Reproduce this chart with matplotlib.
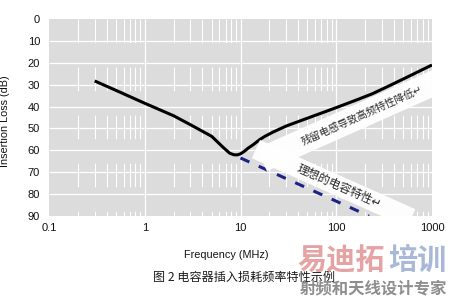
import matplotlib
matplotlib.use("Agg")
import matplotlib.pyplot as plt
from matplotlib.patches import Polygon
import numpy as np

plt.rcParams["lines.scale_dashes"] = False
CJK = ["Noto Sans CJK SC", "DejaVu Sans"]
LATIN = ["Liberation Sans", "DejaVu Sans"]

# Measured insertion loss of the real capacitor
freq_mhz = [0.3, 0.5, 1, 2, 3, 5, 6.5, 7.7, 8.5, 9.2, 10, 11, 12, 13.4, 16,
            18, 22, 30, 48, 75, 107, 167, 240, 370, 530, 1000]
loss_db = [28.3, 32.6, 38.5, 44.2, 48.3, 53.6, 58.4, 61.3, 62.0, 62.1, 61.6,
           60.4, 59.0, 57.6, 55.0, 53.6, 51.6, 48.9, 45.6, 42.5, 40.0, 36.8,
           34.1, 30.2, 26.9, 21.0]

# Ideal capacitor (20 dB/decade)
ideal_freq = [10, 220]
ideal_loss = [63.5, 90.0]

x_ticks = [0.1, 1, 10, 100, 1000]
x_labels = ["0.1", "1", "10", "100", "1000"]
y_ticks = [0, 10, 20, 30, 40, 50, 60, 70, 80, 90]

W, H = 450, 300
fig = plt.figure(figsize=(W / 100, H / 100), dpi=100)
ax = fig.add_axes([49 / W, 1 - 216 / H, 383 / W, 197 / H])
ax.set_xscale("log")
ax.set_xlim(0.1, 1000)
ax.set_ylim(90, 0)
ax.set_facecolor("#dcdcdc")
for s in ax.spines.values():
    s.set_visible(False)

# grid: dashed minor verticals, solid decades and 10 dB rows
minor = [m * 10.0 ** e for e in range(-1, 3) for m in range(2, 10)]
ax.vlines(minor, 0, 90, colors="white", linewidth=0.8,
          linestyles=[(0, (17.0, 17.6))], zorder=1)
ax.vlines([1, 10, 100], 0, 90, colors="white", linewidth=0.9, zorder=1)
ax.hlines(y_ticks[1:-1], 0.1, 1000, colors="white", linewidth=0.9, zorder=1)

ax.plot(freq_mhz, loss_db, color="black", lw=2.2, zorder=3,
        solid_capstyle="butt", solid_joinstyle="round")
ax.plot(ideal_freq, ideal_loss, color="#1c2385", lw=2.2, zorder=3,
        dashes=(7.0, 7.4), dash_capstyle="butt")

ax.set_xticks(x_ticks)
ax.set_xticklabels(x_labels)
ax.set_yticks(y_ticks)
ax.set_yticklabels([str(v) for v in y_ticks])
ax.xaxis.set_minor_locator(matplotlib.ticker.NullLocator())
ax.tick_params(axis="both", length=0, labelsize=8, colors="#111111")
ax.tick_params(axis="y", pad=6.5)
ax.tick_params(axis="x", pad=4.8)
for lab in ax.get_xticklabels() + ax.get_yticklabels():
    lab.set_family(LATIN)

ax.set_xlabel("Frequency (MHz)", fontsize=7.8, family=LATIN, color="#111111")
ax.set_ylabel("Insertion Loss (dB)", fontsize=7.8, family=LATIN, color="#111111")
ax.xaxis.set_label_coords(0.462, -0.173)
ax.yaxis.set_label_coords(-0.102, 0.482)


def px(x, y):
    return (x / W, 1 - y / H)


def band(corner, angle_deg, length, width):
    a = np.deg2rad(angle_deg)
    d = np.array([np.cos(a), -np.sin(a)])
    n = np.array([np.sin(a), np.cos(a)])
    p = np.array(corner)
    pts = [p, p + length * d, p + length * d + width * n, p + width * n]
    return [px(*q) for q in pts]


# callout strips
b1 = Polygon(band((256.7, 148.3), 24, 196, 25), closed=True,
             transform=fig.transFigure, facecolor="white", edgecolor="none",
             alpha=0.96, zorder=4)
b2 = Polygon(band((260.0, 140.0), -24, 170, 20), closed=True,
             transform=fig.transFigure, facecolor="white", edgecolor="none",
             alpha=0.96, zorder=4)
ax.add_patch(b1)
ax.add_patch(b2)

ax.text(*px(362, 115), "残留电感导致高频特性降低\u21b5", transform=fig.transFigure,
        rotation=24, rotation_mode="anchor", ha="center", va="center",
        fontsize=7.4, family=CJK, color="#2a2a2a", zorder=5)
ax.text(*px(339, 186), "理想的电容特性\u21b5", transform=fig.transFigure,
        rotation=-24, rotation_mode="anchor", ha="center", va="center",
        fontsize=8.4, family=CJK, color="#2a2a2a", zorder=5)

fig.text(*px(244, 277), "图 2 电容器插入损耗频率特性示例", ha="center", va="center",
         fontsize=8.7, family=CJK, color="#1a1a1a")

# site mark
fig.text(*px(297, 260), "易迪拓", ha="left", va="center", fontsize=21,
         weight="bold", family=CJK, color="#e6a3a3")
fig.text(*px(446, 260), "培训", ha="right", va="center", fontsize=21,
         weight="bold", family=CJK, color="#a9b8d8")
fig.text(*px(373, 288), "射频和天线设计专家", ha="center", va="center",
         fontsize=11.8, weight="bold", family=CJK, color="#8e8e8e")

fig.savefig("out.png", dpi=100)
